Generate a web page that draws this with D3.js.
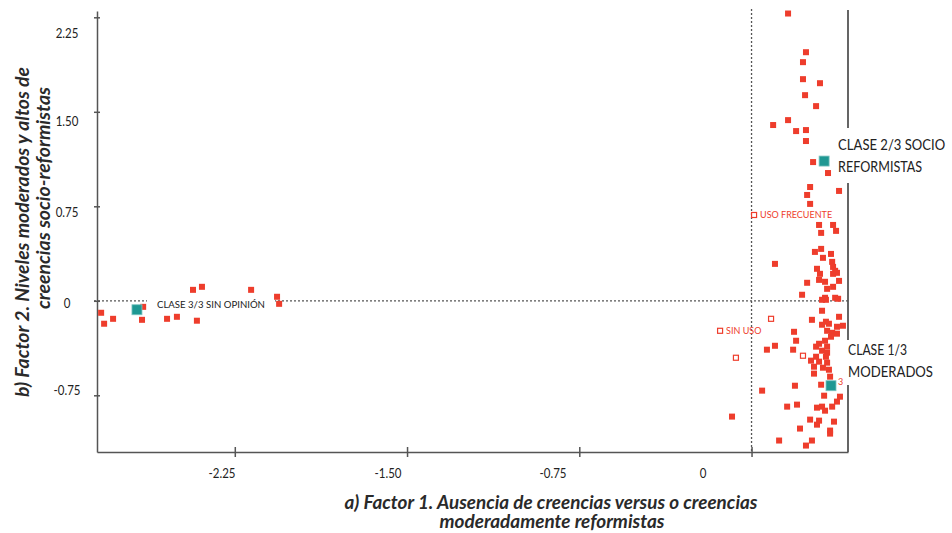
<!DOCTYPE html>
<html>
<head>
<meta charset="utf-8">
<script src="https://cdn.jsdelivr.net/npm/d3@7"></script>
<style>
  body { margin: 0; background: #fff; }
  svg { display: block; }
</style>
</head>
<body>
<div id="graph-container"></div>
<script>
// tick values and their printed labels
const xTicks = [-2.25, -1.5, -0.75, 0];
const xTickLabels = ["-2.25", "-1.50", "-0.75", "0"];
const yTicks = [-0.75, 0, 0.75, 1.5, 2.25];
const yTickLabels = ["-0.75", "0", "0.75", "1.50", "2.25"];

// individuals (factor 1, factor 2)
const rightPoints = [
  [0.159, 2.28], [0.237, 1.973], [0.224, 1.894], [0.224, 1.759], [0.298, 1.727],
  [0.233, 1.632], [0.281, 1.545], [0.159, 1.434], [0.094, 1.395], [0.194, 1.347],
  [0.237, 1.355], [0.237, 1.268], [0.268, 1.101], [0.333, 1.014], [0.255, 0.903],
  [0.242, 0.840], [0.381, 0.872], [0.255, 0.769], [0.294, 0.602], [0.355, 0.602],
  [0.303, 0.539], [0.368, 0.555], [0.276, 0.388], [0.303, 0.412], [0.346, 0.372],
  [0.311, 0.341], [0.102, 0.293], [0.351, 0.309], [0.285, 0.254], [0.355, 0.269],
  [0.364, 0.238], [0.298, 0.214], [0.355, 0.214], [0.372, 0.222], [0.294, 0.166],
  [0.320, 0.151], [0.381, 0.158], [0.242, 0.143], [0.329, 0.095], [0.355, 0.111],
  [0.220, 0.048], [0.320, 0.024], [0.364, 0.024], [0.307, 0.008], [0.324, 0.008],
  [0.377, 0.016], [0.307, -0.079], [0.263, -0.151], [0.381, -0.127], [0.324, -0.166],
  [0.307, -0.190], [0.337, -0.182], [0.372, -0.206], [0.398, -0.198], [0.185, -0.246],
  [0.329, -0.238], [0.351, -0.254], [0.372, -0.261], [0.346, -0.285], [0.194, -0.317],
  [0.294, -0.341], [0.320, -0.317], [0.102, -0.357], [0.281, -0.364], [0.329, -0.364],
  [0.067, -0.388], [0.181, -0.388], [0.307, -0.396], [0.329, -0.412], [0.281, -0.444],
  [0.324, -0.444], [0.259, -0.475], [0.294, -0.483], [0.329, -0.491], [0.272, -0.523],
  [0.311, -0.531], [0.337, -0.547], [0.272, -0.578], [0.342, -0.602], [0.046, -0.713],
  [0.189, -0.674], [0.303, -0.666], [0.316, -0.753], [0.385, -0.761], [0.372, -0.800],
  [0.155, -0.840], [0.198, -0.824], [0.285, -0.848], [0.307, -0.840], [0.320, -0.872],
  [0.351, -0.840], [-0.085, -0.919], [0.255, -0.943], [0.294, -0.951], [0.285, -0.983],
  [0.359, -0.959], [0.211, -1.014], [0.342, -1.030], [0.342, -1.054], [0.120, -1.109],
  [0.263, -1.109], [0.237, -1.149]
];
const leftPoints = [
  [-2.832, -0.095], [-2.819, -0.182], [-2.780, -0.143], [-2.649, -0.048], [-2.654, -0.151],
  [-2.545, -0.143], [-2.502, -0.127], [-2.415, -0.158], [-2.432, 0.087], [-2.393, 0.111],
  [-2.179, 0.087], [-2.066, 0.032], [-2.057, -0.024]
];

// supplementary modalities (hollow squares)
const modalityX = [0.011, -0.137, 0.085, -0.068, 0.224];
const modalityY = [0.681, -0.238, -0.143, -0.452, -0.436];
const modalityNames = ["USO FRECUENTE", "SIN USO", "", "", ""];

// class centroids
const classX = [0.316, 0.346, -2.676];
const classY = [1.109, -0.674, -0.071];
const classNames = [["CLASE 2/3 SOCIO", "REFORMISTAS"], ["CLASE 1/3", "MODERADOS"], ["CLASE 3/3 SIN OPINIÓN"]];

const red = "#ee3d2c", teal = "#1f9893", axisColor = "#555";

let width = 952, height = 533;
let svg = d3.select("#graph-container")
  .append("svg")
  .attr("width", width)
  .attr("height", height);

let x = d3.scaleLinear().domain([-2.85, 0.42]).range([97, 848]);
let y = d3.scaleLinear().domain([-1.2, 2.3]).range([452, 11]);

// labels in the original sit a bit off their ticks
let xLab = d3.scaleLinear().domain(xTicks).range([222, 388, 553, 703]);
let yLab = d3.scaleLinear().domain(yTicks).range([390, 303, 212, 121, 33]);

// squeeze a text horizontally (the original font is a condensed one)
function squeeze(sel, k) {
  sel.each(function() {
    let len = this.getComputedTextLength();
    if (len > 0) d3.select(this).attr("textLength", len * k).attr("lengthAdjust", "spacingAndGlyphs");
  });
}
function fitTo(sel, w) {
  sel.attr("textLength", w).attr("lengthAdjust", "spacingAndGlyphs");
}

// dotted origin lines
svg.append("line")
  .attr("x1", x(0)).attr("x2", x(0)).attr("y1", 9).attr("y2", y.range()[0])
  .attr("stroke", axisColor).attr("stroke-width", 1.3).attr("stroke-dasharray", "2,2");
svg.append("line")
  .attr("x1", x.range()[0] - 3).attr("x2", x.range()[1]).attr("y1", y(0)).attr("y2", y(0))
  .attr("stroke", axisColor).attr("stroke-width", 1.3).attr("stroke-dasharray", "2,2");

// axes, ticks crossing the line
let gx = svg.append("g")
  .attr("transform", "translate(0," + y.range()[0] + ")")
  .call(d3.axisBottom(x).tickValues(xTicks).tickSize(5).tickSizeOuter(0).tickFormat(""));
gx.selectAll(".tick line").attr("y1", -5);
let gy = svg.append("g")
  .attr("transform", "translate(" + x.range()[0] + ",0)")
  .call(d3.axisLeft(y).tickValues(yTicks).tickSize(3).tickSizeOuter(0).tickFormat(""));
gy.selectAll(".tick line").attr("x1", 3);
svg.selectAll(".domain, .tick line").attr("stroke", axisColor).attr("stroke-width", 1.5);

// right frame line
svg.append("line")
  .attr("x1", x.range()[1]).attr("x2", x.range()[1]).attr("y1", 10).attr("y2", y.range()[0])
  .attr("stroke", axisColor).attr("stroke-width", 1.8);

svg.append("g").selectAll("text")
  .data(xTicks).enter().append("text")
  .attr("x", d => xLab(d)).attr("y", 478)
  .attr("text-anchor", "middle")
  .attr("font-family", "Lato, sans-serif")
  .attr("font-size", 14).attr("fill", "#222")
  .text((d, i) => xTickLabels[i])
  .call(squeeze, 0.82);
svg.append("g").selectAll("text")
  .data(yTicks).enter().append("text")
  .attr("x", 67).attr("y", d => yLab(d) + 5)
  .attr("text-anchor", "middle")
  .attr("font-family", "Lato, sans-serif")
  .attr("font-size", 14).attr("fill", "#222")
  .text((d, i) => yTickLabels[i])
  .call(squeeze, 0.82);

// white boxes behind the class labels
let boxes = [[832, 128, 120, 55], [845, 340, 95, 45], [147, 297, 128, 11]];
svg.append("g").selectAll("rect")
  .data(boxes).enter().append("rect")
  .attr("x", d => d[0]).attr("y", d => d[1]).attr("width", d => d[2]).attr("height", d => d[3])
  .attr("fill", "#fff");

// individuals
svg.append("g")
  .selectAll("rect")
  .data(rightPoints.concat(leftPoints))
  .enter()
  .append("rect")
    .attr("x", d => x(d[0]) - 3)
    .attr("y", d => y(d[1]) - 3)
    .attr("width", 6).attr("height", 6)
    .attr("fill", red);

// hollow modalities
svg.append("g")
  .selectAll("rect")
  .data(modalityX)
  .enter()
  .append("rect")
    .attr("x", (d, i) => x(d) - 2.5)
    .attr("y", (d, i) => y(modalityY[i]) - 2.5)
    .attr("width", 5).attr("height", 5)
    .attr("fill", "#fff").attr("stroke", red).attr("stroke-width", 1.2);
svg.append("g")
  .selectAll("text")
  .data(modalityX)
  .enter()
  .append("text")
    .attr("x", d => x(d) + 6)
    .attr("y", (d, i) => y(modalityY[i]) + 3.5)
    .attr("font-family", "Lato, sans-serif")
    .attr("font-size", 10).attr("fill", red)
    .text((d, i) => modalityNames[i])
    .call(squeeze, 0.9);

// class centroids
svg.append("g")
  .selectAll("rect")
  .data(classX)
  .enter()
  .append("rect")
    .attr("x", d => x(d) - 5)
    .attr("y", (d, i) => y(classY[i]) - 5)
    .attr("width", 10).attr("height", 10)
    .attr("fill", teal).attr("stroke", "#7cc4c0").attr("stroke-width", 0.8);

// stray "3" next to class 1/3
svg.append("text")
  .attr("x", x(classX[1]) + 7).attr("y", y(classY[1]) - 1)
  .attr("font-family", "Lato, sans-serif").attr("font-size", 9).attr("fill", red)
  .text("3");

// dx, dy of first line, line step, font size, widths per line
let classOffsets = [[14, -11, 22, 16, [107, 84]], [17, -31, 22, 16, [59, 85]], [20, -2, 0, 10, [108]]];
classNames.forEach((lines, i) => {
  let o = classOffsets[i];
  lines.forEach((t, j) => {
    svg.append("text")
      .attr("x", x(classX[i]) + o[0])
      .attr("y", y(classY[i]) + o[1] + j * o[2])
      .attr("font-family", "Lato, sans-serif")
      .attr("font-size", o[3]).attr("fill", "#222")
      .text(t)
      .call(fitTo, o[4][j]);
  });
});

// axis titles
function title(t, tx, ty, rot, w) {
  svg.append("text")
    .attr("transform", "translate(" + tx + "," + ty + ") rotate(" + rot + ")")
    .attr("text-anchor", "middle")
    .attr("font-family", "Lato, sans-serif").attr("font-weight", "bold").attr("font-style", "italic")
    .attr("font-size", 18).attr("fill", "#2a2a2a")
    .text(t)
    .call(fitTo, w);
}
title("b) Factor 2. Niveles moderados y altos de", 29, 232, -90, 330);
title("creencias socio-reformistas", 50, 198, -90, 222);
title("a) Factor 1. Ausencia de creencias versus o creencias", 551, 509, 0, 413);
title("moderadamente reformistas", 552, 528, 0, 225);
</script>
</body>
</html>
